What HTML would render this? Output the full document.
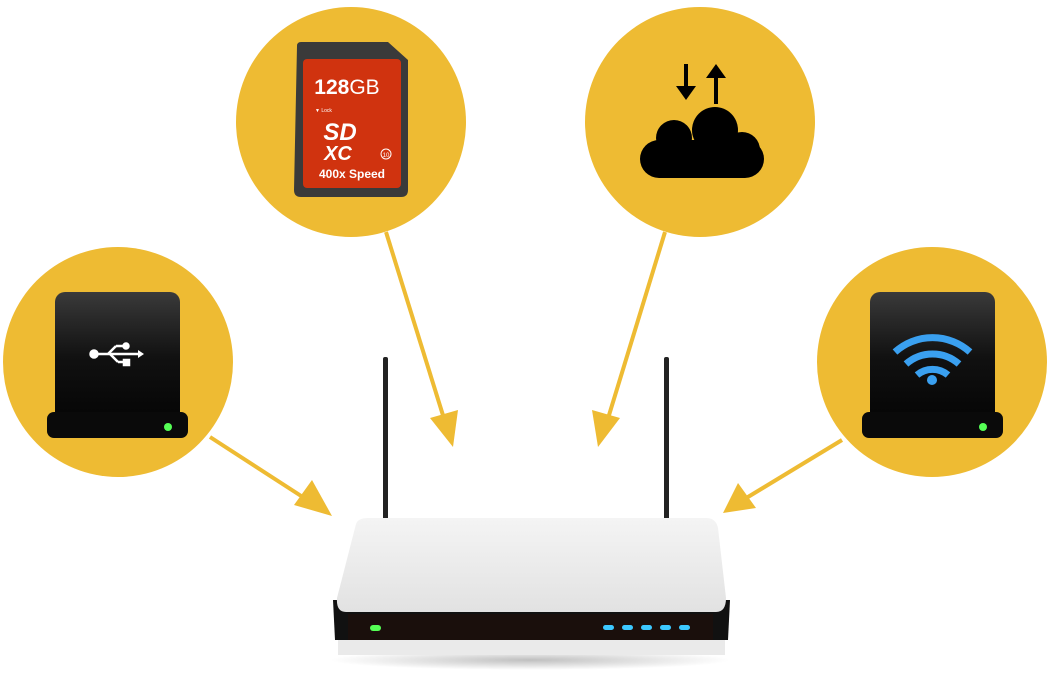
<!DOCTYPE html>
<html><head><meta charset="utf-8"><style>
html,body{margin:0;padding:0;background:#fff;}
body{width:1050px;height:680px;position:relative;overflow:hidden;font-family:"Liberation Sans",sans-serif;}
</style></head><body>
<svg width="1050" height="680" viewBox="0 0 1050 680" xmlns="http://www.w3.org/2000/svg">
<defs>
<linearGradient id="drv" x1="0" y1="0" x2="0" y2="1"><stop offset="0" stop-color="#3a3a3a"/><stop offset="0.5" stop-color="#111"/><stop offset="1" stop-color="#050505"/></linearGradient>
<linearGradient id="top" x1="0" y1="0" x2="0" y2="1"><stop offset="0" stop-color="#f4f4f4"/><stop offset="1" stop-color="#e2e2e2"/></linearGradient>
<radialGradient id="shadow"><stop offset="0" stop-color="#000" stop-opacity="0.25"/><stop offset="1" stop-color="#000" stop-opacity="0"/></radialGradient>
</defs>
<g fill="#eebb33">
<circle cx="118" cy="362" r="115"/>
<circle cx="351" cy="122" r="115"/>
<circle cx="700" cy="122" r="115"/>
<circle cx="932" cy="362" r="115"/>
</g>
<g stroke="#eebb33" stroke-width="4" fill="none">
<line x1="210" y1="437" x2="312" y2="503"/>
<line x1="386" y1="232" x2="446" y2="425"/>
<line x1="665" y1="232" x2="606" y2="425"/>
<line x1="842" y1="440" x2="743" y2="500"/>
</g>
<g fill="#eebb33">
<polygon points="332,516 294,505 312,480"/>
<polygon points="453,447 430,418 458,410"/>
<polygon points="598,447 592,410 620,418"/>
<polygon points="723,513 738,483 756,508"/>
</g>
<!-- left drive -->
<rect x="55" y="292" width="125" height="130" rx="10" fill="url(#drv)"/>
<rect x="47" y="412" width="141" height="26" rx="7" fill="#0a0a0a"/>
<circle cx="168" cy="427" r="4" fill="#5f5"/>
<g stroke="#fff" stroke-width="2.5" fill="#fff">
<line x1="94" y1="354" x2="138" y2="354"/>
<circle cx="94" cy="354" r="3.5"/>
<line x1="108" y1="354" x2="116" y2="346"/><line x1="116" y1="346" x2="124" y2="346"/>
<line x1="110" y1="354" x2="118" y2="362"/><line x1="118" y1="362" x2="126" y2="362"/>
<circle cx="126" cy="346" r="2.5"/><rect x="124" y="360" width="5" height="5"/>
</g>
<polygon points="138,350 144,354 138,358" fill="#fff"/>
<!-- right drive -->
<rect x="870" y="292" width="125" height="130" rx="10" fill="url(#drv)"/>
<rect x="862" y="412" width="141" height="26" rx="7" fill="#0a0a0a"/>
<circle cx="983" cy="427" r="4" fill="#5f5"/>
<g fill="none" stroke="#3aa0f0" stroke-width="7">
<path d="M895,352 A56,56 0 0 1 970,352"/>
<path d="M906,364 A40,40 0 0 1 959,364"/>
<path d="M917,375 A24,24 0 0 1 948,375"/>
</g>
<circle cx="932" cy="380" r="5" fill="#3aa0f0"/>
<!-- SD card -->
<path d="M297,46 Q297,42 301,42 L388,42 L408,60 L408,190 Q408,197 401,197 L301,197 Q294,197 294,190 Z" fill="#3a3a3a"/>
<rect x="303" y="59" width="98" height="129" rx="4" fill="#d0330f"/>
<text x="347" y="94" font-size="21" font-weight="bold" fill="#fff" text-anchor="middle">128<tspan font-weight="normal">GB</tspan></text>
<text x="315" y="112" font-size="5" fill="#fff">▼ Lock</text>
<text x="340" y="140" font-size="24" font-weight="bold" font-style="italic" fill="#fff" text-anchor="middle">SD</text>
<text x="338" y="160" font-size="20" font-weight="bold" font-style="italic" fill="#fff" text-anchor="middle">XC</text>
<circle cx="386" cy="154" r="5" fill="none" stroke="#fff" stroke-width="1"/>
<text x="386" y="157" font-size="6" fill="#fff" text-anchor="middle">10</text>
<text x="352" y="178" font-size="12" font-weight="bold" fill="#fff" text-anchor="middle">400x Speed</text>
<!-- cloud -->
<g fill="#000">
<rect x="640" y="140" width="124" height="38" rx="19"/>
<circle cx="674" cy="138" r="18"/><circle cx="715" cy="130" r="23"/><circle cx="742" cy="150" r="18"/>
<rect x="684" y="64" width="4" height="26"/><polygon points="676,86 696,86 686,100"/>
<rect x="714" y="76" width="4" height="28"/><polygon points="706,78 726,78 716,64"/>
</g>
<!-- router -->
<ellipse cx="530" cy="660" rx="200" ry="10" fill="url(#shadow)"/>
<rect x="383" y="357" width="5" height="165" rx="2" fill="#222"/>
<rect x="664" y="357" width="5" height="165" rx="2" fill="#222"/>
<path d="M338,655 L725,655 L725,640 L338,640 Z" fill="#eaeaea"/>
<path d="M333,600 L730,600 L728,640 L335,640 Z" fill="#111"/>
<path d="M356,524 Q358,518 368,518 L706,518 Q716,518 718,528 L726,598 Q726,612 716,612 L346,612 Q336,612 337,598 Z" fill="url(#top)"/>
<rect x="348" y="614" width="365" height="26" fill="#1a0f0c"/>
<rect x="370" y="625" width="11" height="6" rx="3" fill="#5f5"/>
<g fill="#3cc8ff">
<rect x="603" y="625" width="11" height="5" rx="2.5"/><rect x="622" y="625" width="11" height="5" rx="2.5"/>
<rect x="641" y="625" width="11" height="5" rx="2.5"/><rect x="660" y="625" width="11" height="5" rx="2.5"/>
<rect x="679" y="625" width="11" height="5" rx="2.5"/>
</g>
</svg>
</body></html>
